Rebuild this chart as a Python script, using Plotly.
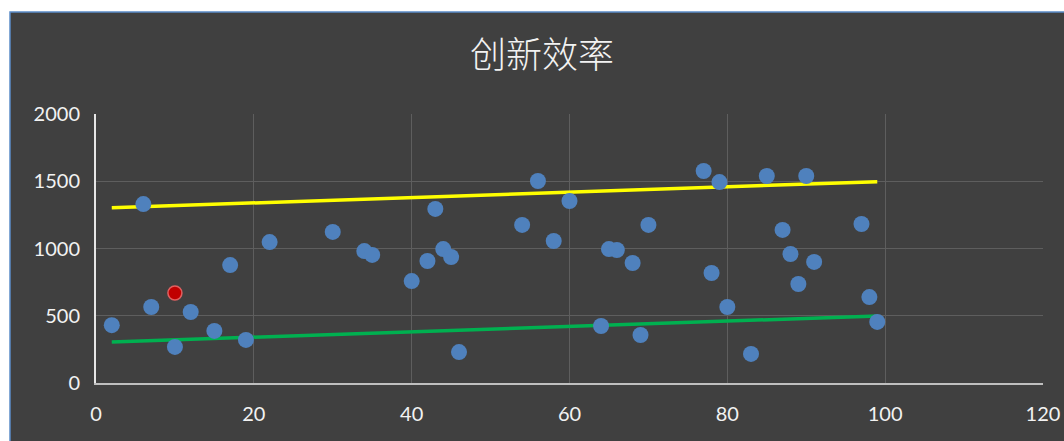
import plotly.graph_objects as go

# Data
x_vals = [2, 6, 7, 10, 12, 15, 17, 19, 22, 30, 34, 35, 40, 42, 43, 44, 45, 46,
          54, 56, 58, 60, 64, 65, 66, 68, 69, 70, 77, 78, 79, 80, 83, 85, 87,
          88, 89, 90, 91, 97, 98, 99]
y_vals = [430, 1330, 565, 268, 528, 387, 877, 320, 1048, 1123, 981, 952, 758,
          907, 1294, 996, 937, 230, 1175, 1502, 1056, 1353, 424, 996, 989, 892,
          357, 1175, 1576, 818, 1494, 565, 216, 1539, 1138, 959, 736, 1539, 900,
          1182, 639, 454]
highlight_x = [10]
highlight_y = [669]

upper_x = [2, 99]
upper_y = [1303, 1497]
lower_x = [2, 99]
lower_y = [305, 498]

x_ticks = [0, 20, 40, 60, 80, 100, 120]
y_ticks = [0, 500, 1000, 1500, 2000]
title_text = "创新效率"

BG = "#404040"
fig = go.Figure()
fig.add_trace(go.Scatter(x=upper_x, y=upper_y, mode="lines",
                         line=dict(color="#ffff00", width=3.5), hoverinfo="skip"))
fig.add_trace(go.Scatter(x=lower_x, y=lower_y, mode="lines",
                         line=dict(color="#00b050", width=3.5), hoverinfo="skip"))
fig.add_trace(go.Scatter(x=x_vals, y=y_vals, mode="markers",
                         marker=dict(color="#4f81bd", size=16, line=dict(width=0))))
fig.add_trace(go.Scatter(x=highlight_x, y=highlight_y, mode="markers",
                         marker=dict(color="#c00000", size=14,
                                     line=dict(color="#e06060", width=1.5))))

W, H = 1064, 441
ml, mr, mt, mb = 96, 21, 114, 58
pw, ph = W - ml - mr, H - mt - mb

def px_to_paper_x(px):
    return (px - ml) / pw

def px_to_paper_y(py):
    return (H - mb - py) / ph

# dark chart panel on a white page, with a thin blue frame (top and left visible)
shapes = [
    dict(type="rect", xref="paper", yref="paper", layer="below",
         x0=px_to_paper_x(10), x1=px_to_paper_x(W + 20),
         y0=px_to_paper_y(H + 20), y1=px_to_paper_y(12),
         fillcolor=BG, line=dict(color="#5b8cc8", width=1.5)),
]

fig.update_layout(
    width=W, height=H,
    margin=dict(l=ml, r=mr, t=mt, b=mb, pad=0),
    paper_bgcolor="white", plot_bgcolor=BG,
    showlegend=False,
    title=dict(text=title_text, x=542 / W, xref="container", xanchor="center",
               y=1 - 55 / H, yref="container", yanchor="middle",
               font=dict(family="Noto Sans CJK SC", size=36, color="#f2f2f2",
                         weight=300)),
    font=dict(family="Lato, Noto Sans, sans-serif", color="#f2f2f2", size=20),
    shapes=shapes,
    xaxis=dict(range=[0, 120], tickvals=x_ticks, showgrid=True,
               gridcolor="#5e5e5e", gridwidth=1, zeroline=False,
               showline=True, linecolor="#bfbfbf", linewidth=2,
               ticks="", ticklabelstandoff=12, automargin=False),
    yaxis=dict(range=[0, 2000], tickvals=y_ticks, showgrid=True,
               gridcolor="#5e5e5e", gridwidth=1, zeroline=False,
               showline=True, linecolor="#e6e6e6", linewidth=2,
               ticks="", ticklabelstandoff=10, automargin=False),
)

fig.write_html(
    "out.html",
    config={"displayModeBar": False},
    post_script=(
        "var d=document.documentElement, b=document.body;"
        "[d,b].forEach(function(e){e.style.margin='0';e.style.padding='0';"
        "e.style.overflow='hidden';e.style.background='#404040';});"
    ),
)
